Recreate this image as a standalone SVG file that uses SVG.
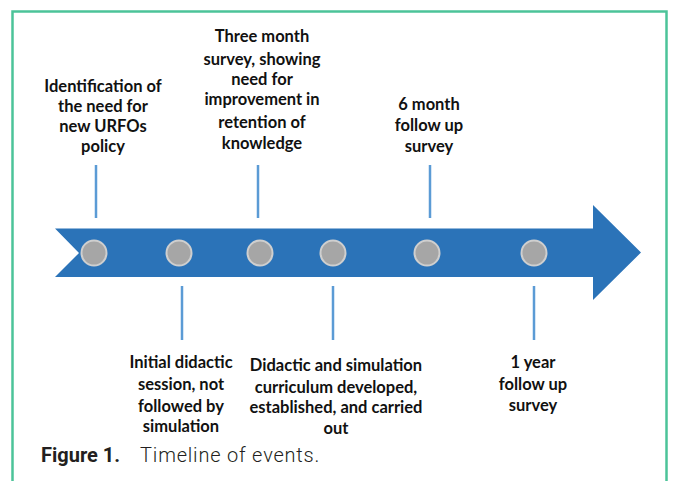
<svg xmlns="http://www.w3.org/2000/svg" width="678" height="481" viewBox="0 0 678 481">
<style>
.lbl{font-family:Lato,"Liberation Sans",sans-serif;font-weight:700;font-size:16.5px;fill:#111;text-anchor:middle}
.tick{stroke:#5b9bd5;stroke-width:2.5}
.dot{fill:#a6a6a6;stroke:#cfcfcf;stroke-width:2}
.cap{font-family:Roboto,"Liberation Sans",sans-serif;font-size:20px;fill:#231f20}
</style>
<rect width="678" height="481" fill="#fff"/>
<path d="M12.5 481 V11.5 H666.5 V481" fill="none" stroke="#4cc399" stroke-width="2.5"/>
<g id="arrow">
<polygon points="55,228.5 593,228.5 593,205 641,252.5 593,300 593,277 55,277 79,253" fill="#2b73b8"/>
</g>
<g id="connectors">
<line class="tick" x1="96" y1="165" x2="96" y2="218"/>
<line class="tick" x1="258" y1="165" x2="258" y2="218"/>
<line class="tick" x1="430" y1="165" x2="430" y2="218"/>
<line class="tick" x1="182" y1="286" x2="182" y2="340"/>
<line class="tick" x1="333" y1="286" x2="333" y2="340"/>
<line class="tick" x1="534" y1="286" x2="534" y2="340"/>
</g>
<g id="n1">
<circle class="dot" cx="94" cy="253" r="12.5"/>
<text class="lbl"><tspan x="103" y="92">Identification of</tspan><tspan x="103" y="112">the need for</tspan><tspan x="103" y="132">new URFOs</tspan><tspan x="103" y="152">policy</tspan></text>
</g>
<g id="n2">
<circle class="dot" cx="179" cy="253" r="12.5"/>
<text class="lbl"><tspan x="181" y="368">Initial didactic</tspan><tspan x="181" y="390">session, not</tspan><tspan x="181" y="412">followed by</tspan><tspan x="181" y="432">simulation</tspan></text>
</g>
<g id="n3">
<circle class="dot" cx="260" cy="253" r="12.5"/>
<text class="lbl"><tspan x="262" y="42">Three month</tspan><tspan x="262" y="65">survey, showing</tspan><tspan x="262" y="85">need for</tspan><tspan x="262" y="105">improvement in</tspan><tspan x="262" y="128">retention of</tspan><tspan x="262" y="149">knowledge</tspan></text>
</g>
<g id="n4">
<circle class="dot" cx="333" cy="253" r="12.5"/>
<text class="lbl"><tspan x="336" y="371">Didactic and simulation</tspan><tspan x="336" y="393">curriculum developed,</tspan><tspan x="336" y="413">established, and carried</tspan><tspan x="336" y="434">out</tspan></text>
</g>
<g id="n5">
<circle class="dot" cx="427" cy="253" r="12.5"/>
<text class="lbl"><tspan x="429" y="110">6 month</tspan><tspan x="429" y="131">follow up</tspan><tspan x="429" y="152">survey</tspan></text>
</g>
<g id="n6">
<circle class="dot" cx="534" cy="253" r="12.5"/>
<text class="lbl"><tspan x="533" y="368">1 year</tspan><tspan x="533" y="390">follow up</tspan><tspan x="533" y="411">survey</tspan></text>
</g>
<text class="cap" x="41" y="462"><tspan font-weight="700">Figure 1.</tspan><tspan font-weight="300" dx="20" letter-spacing="0.8">Timeline of events.</tspan></text>
</svg>
